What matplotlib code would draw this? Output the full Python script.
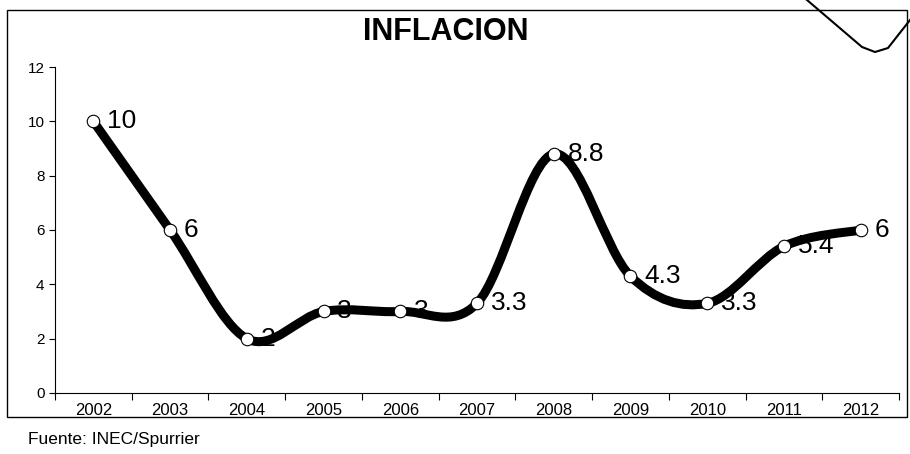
#!/usr/bin/env python3
import matplotlib
matplotlib.use("Agg")
import matplotlib.pyplot as plt
from matplotlib.path import Path
from matplotlib.patches import PathPatch, Rectangle
from matplotlib.lines import Line2D
import numpy as np

plt.rcParams["font.family"] = ["Liberation Sans", "DejaVu Sans"]

years = ["2002", "2003", "2004", "2005", "2006", "2007",
         "2008", "2009", "2010", "2011", "2012"]
inflation = [10, 6, 2, 3, 3, 3.3, 8.8, 4.3, 3.3, 5.4, 6]
labels = ["10", "6", "2", "3", "3", "3.3", "8.8", "4.3", "3.3", "5.4", "6"]


def smooth_path(xs, ys):
    # Excel-style smoothed line: cubic Bezier through every point
    pts = np.column_stack([xs, ys]).astype(float)
    n = len(pts)
    verts = [pts[0]]
    codes = [Path.MOVETO]
    for i in range(n - 1):
        p0 = pts[max(i - 1, 0)]
        p1 = pts[i]
        p2 = pts[i + 1]
        p3 = pts[min(i + 2, n - 1)]
        c1 = p1 + (p2 - p0) / 6
        c2 = p2 - (p3 - p1) / 6
        verts += [c1, c2, p2]
        codes += [Path.CURVE4] * 3
    return Path(verts, codes)


fig = plt.figure(figsize=(9.1, 4.54), dpi=100)
ax = fig.add_axes([0.0604, 0.1344, 0.9276, 0.718])

x = np.arange(len(years))
ax.add_patch(PathPatch(smooth_path(x, inflation), fill=False,
                       edgecolor="black", lw=6.5, capstyle="round",
                       joinstyle="round", zorder=2))
ax.plot(x, inflation, "o", ms=9, mfc="white", mec="black", mew=0.8, zorder=3)

for xi, yi, lab in zip(x, inflation, labels):
    ax.annotate(lab, (xi, yi), xytext=(10, 0), textcoords="offset points",
                ha="left", va="center", fontsize=19, zorder=4)

ax.set_xlim(-0.5, len(years) - 0.5)
ax.set_ylim(0, 12)
ax.set_yticks(range(0, 13, 2))
ax.tick_params(axis="y", labelsize=11, length=4, width=0.8)

ax.set_xticks(np.arange(-0.5, len(years), 1))
ax.set_xticklabels([])
ax.set_xticks(x, minor=True)
ax.set_xticklabels(years, minor=True, fontsize=12)
ax.tick_params(axis="x", which="major", length=5, width=0.8)
ax.tick_params(axis="x", which="minor", length=0, pad=7)

for side in ["top", "right"]:
    ax.spines[side].set_visible(False)

fig.text(0.49, 0.93, "INFLACION", ha="center", va="center",
         fontsize=22, fontweight="bold")

# outer frame and note
fig.patches.append(Rectangle((0.0077, 0.0815), 0.989, 0.896,
                             transform=fig.transFigure, fill=False,
                             edgecolor="black", lw=1))
fig.text(0.031, 0.031, "Fuente: INEC/Spurrier", ha="left", va="center",
         fontsize=12.5)

# hand-drawn stroke at top right corner
fig.lines.append(Line2D([807 / 910, 862 / 910, 875 / 910, 888 / 910, 910 / 910],
                        [1, 1 - 47 / 454, 1 - 52 / 454, 1 - 48 / 454, 1 - 20 / 454],
                        transform=fig.transFigure, color="black", lw=1.5))

fig.savefig("out.png", dpi=100)
